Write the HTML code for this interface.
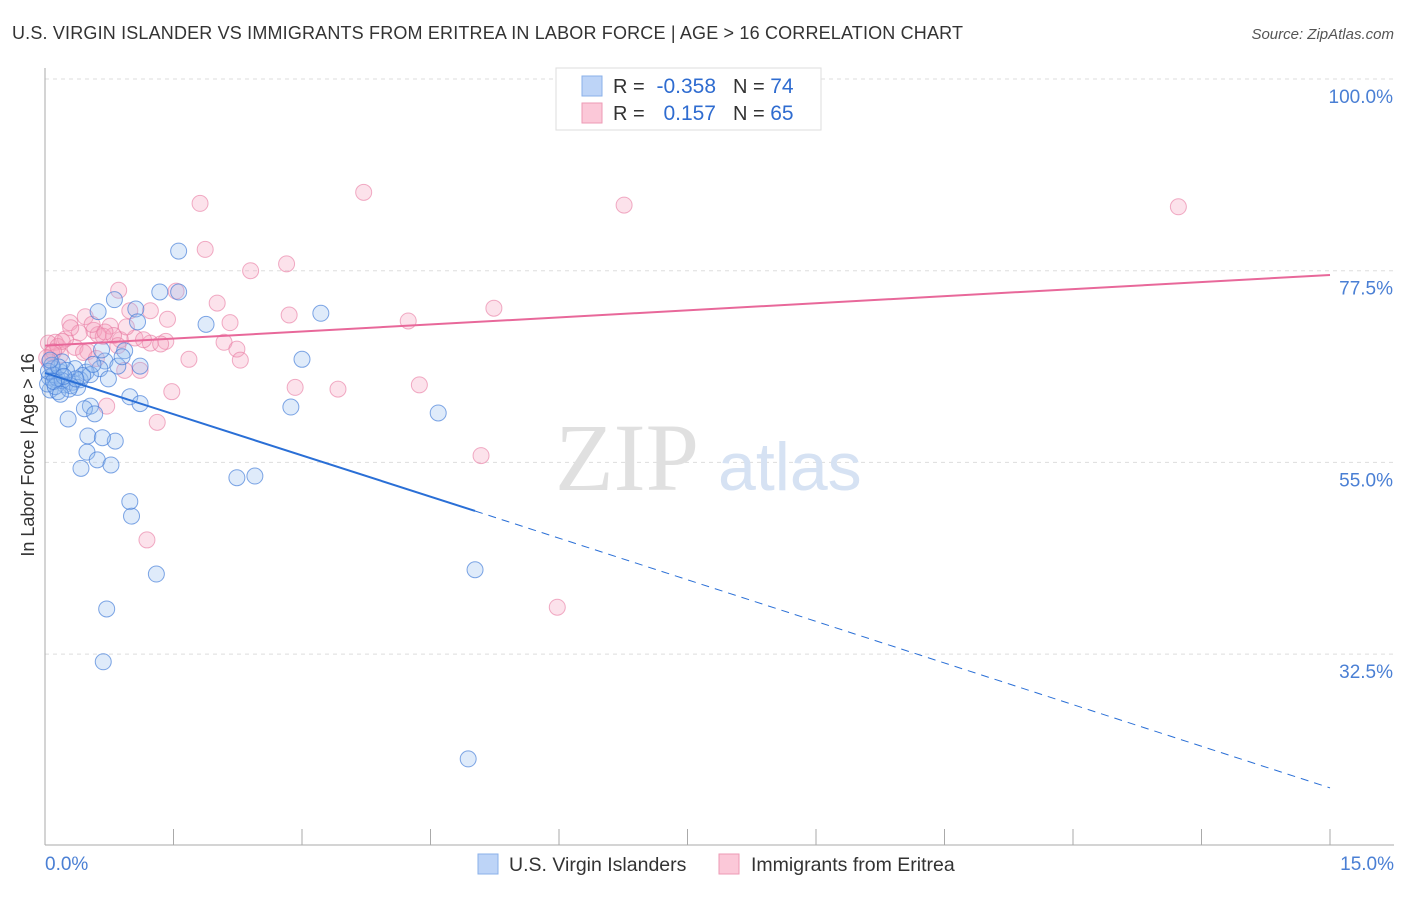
<!DOCTYPE html>
<html><head><meta charset="utf-8"><style>
body{margin:0;background:#fff;font-family:"Liberation Sans",sans-serif;}
svg text{font-family:"Liberation Sans",sans-serif;}
</style></head><body>
<svg width="1406" height="892" xmlns="http://www.w3.org/2000/svg">
<text x="12" y="39" font-size="18" fill="#333" textLength="951">U.S. VIRGIN ISLANDER VS IMMIGRANTS FROM ERITREA IN LABOR FORCE | AGE &gt; 16 CORRELATION CHART</text>
<text x="1394" y="39" font-size="15" fill="#555" font-style="italic" text-anchor="end">Source: ZipAtlas.com</text>
<g id="grid"></g>
<text x="555" y="490" font-size="96" fill="#e0e0e0" style="font-family:'Liberation Serif',serif">ZIP</text>
<text x="718" y="490" font-size="68" fill="#d6e2f3">atlas</text>
<g id="pts"></g>
<g id="lines"></g>
<text x="34" y="455" font-size="18" fill="#333" text-anchor="middle" transform="rotate(-90 34 455)">In Labor Force | Age &gt; 16</text>
<text x="45" y="870" font-size="19" fill="#4a7fd4">0.0%</text>
<text x="1394" y="870" font-size="19" fill="#4a7fd4" text-anchor="end">15.0%</text>
<g>
<rect x="556" y="68" width="265" height="62" fill="#fff" stroke="#ddd"/>
<rect x="582" y="76" width="20" height="20" fill="#bdd4f7" stroke="#8ab0ea"/>
<rect x="582" y="103" width="20" height="20" fill="#fbc8d8" stroke="#ee9ab5"/>
<text x="613" y="93" font-size="20" fill="#333">R =</text>
<text x="716" y="93" font-size="21" fill="#2f6cd0" text-anchor="end">-0.358</text>
<text x="733" y="93" font-size="20" fill="#333">N = <tspan fill="#2f6cd0" font-size="21">74</tspan></text>
<text x="613" y="120" font-size="20" fill="#333">R =</text>
<text x="716" y="120" font-size="21" fill="#2f6cd0" text-anchor="end">0.157</text>
<text x="733" y="120" font-size="20" fill="#333">N = <tspan fill="#2f6cd0" font-size="21">65</tspan></text>
</g>
<g>
<rect x="478" y="854" width="20" height="20" fill="#bdd4f7" stroke="#8ab0ea"/>
<text x="509" y="871" font-size="19.5" fill="#333">U.S. Virgin Islanders</text>
<rect x="719" y="854" width="20" height="20" fill="#fbc8d8" stroke="#ee9ab5"/>
<text x="751" y="871" font-size="19.5" fill="#333">Immigrants from Eritrea</text>
</g>
</svg>
<script>
const yTicks=[100,77.5,55,32.5];
const yTickLabels=["100.0%","77.5%","55.0%","32.5%"];
const blueX=[1.56,1.34,1.56,0.81,0.62,1.06,1.08,1.88,3.22,3.00,0.93,0.70,0.85,1.11,0.64,0.74,0.48,0.35,0.18,0.09,0.12,0.23,0.32,0.06,0.15,0.41,0.53,0.20,0.99,1.11,0.53,0.46,0.58,0.27,2.87,4.59,0.50,0.82,0.67,0.49,0.61,0.77,0.42,2.24,2.45,0.99,1.01,1.30,5.02,0.72,0.68,4.94,0.05,0.03,0.10,0.14,0.25,0.30,0.38,0.44,0.08,0.12,0.20,0.04,0.16,0.28,0.36,0.56,0.66,0.90,0.22,0.10,0.18,0.06];
const blueY=[79.8,75.0,75.0,74.1,72.7,73.0,71.5,71.2,72.5,67.1,68.1,66.9,66.3,66.3,66.0,64.8,65.6,66.0,65.6,66.0,64.7,64.1,64.4,63.5,63.3,64.7,65.3,66.8,62.7,61.9,61.6,61.3,60.7,60.1,61.5,60.8,58.1,57.5,57.9,56.2,55.3,54.7,54.3,53.2,53.4,50.4,48.7,41.9,42.4,37.8,31.6,20.2,65.0,64.2,65.3,64.9,65.8,64.0,63.8,65.2,66.4,63.9,64.6,65.7,66.2,63.6,64.8,66.5,68.2,67.4,65.1,64.5,63.0,67.0];
const pinkX=[3.72,1.81,6.76,13.23,1.87,2.40,2.82,0.86,1.53,2.01,5.24,2.85,4.24,2.16,1.43,1.23,0.99,0.76,0.47,0.29,0.57,0.68,0.88,1.05,1.23,1.41,2.09,2.24,2.28,1.68,0.12,0.18,0.35,0.50,0.93,1.11,2.92,3.42,4.37,1.48,0.72,1.31,5.09,1.19,5.98,0.04,0.08,0.24,0.40,0.62,0.15,0.30,0.80,0.95,1.15,0.05,0.45,0.70,0.20,0.55,1.35,0.10,0.02,0.85,0.60];
const pinkY=[86.7,85.4,85.2,85.0,80.0,77.5,78.3,75.2,75.1,73.7,73.1,72.3,71.6,71.4,71.8,72.8,72.8,71.0,72.1,71.4,70.5,69.8,69.4,69.6,69.0,69.2,69.1,68.3,67.0,67.1,69.1,67.6,68.5,68.0,65.8,65.8,63.8,63.6,64.1,63.3,61.6,59.7,55.8,45.9,38.0,69.0,67.8,69.5,70.2,70.0,68.6,70.8,69.9,70.9,69.4,66.8,67.9,70.3,69.2,71.2,68.9,68.0,67.3,68.7,67.2];
const blueTrend=[[0,65.5],[5.02,49.3],[15,16.8]];
const pinkTrend=[[0,68.7],[15,77.0]];
const X=v=>45+v/15*1285, Y=v=>79+(100-v)/22.5*191.7;
const NS="http://www.w3.org/2000/svg";
function mk(t,a,p){const e=document.createElementNS(NS,t);for(const k in a)e.setAttribute(k,a[k]);p.appendChild(e);return e;}
const g=document.getElementById('grid');
yTicks.forEach((t,i)=>{
 const l=mk('line',{x1:45,x2:1394,y1:Y(t),y2:Y(t),stroke:'#ddd','stroke-dasharray':'4,4'},g);
 
 
 const tx=mk('text',{x:1393,y:Y(t)+24,'font-size':19,fill:'#4a7fd4','text-anchor':'end'},g);
 tx.textContent=yTickLabels[i];
 
 
});
const ax=mk('line',{x1:45,x2:45,y1:68,y2:845,stroke:'#aaa'},g);


const bx=mk('line',{x1:45,x2:1394,y1:845,y2:845,stroke:'#aaa'},g);


for(let i=1;i<=10;i++){const t=mk('line',{x1:X(i*1.5),x2:X(i*1.5),y1:829,y2:845,stroke:'#aaa'},g);
 
 }
const p=document.getElementById('pts');
pinkX.forEach((x,i)=>{const c=mk('circle',{cx:X(x),cy:Y(pinkY[i]),r:8,fill:'rgba(246,160,190,0.3)',stroke:'rgba(232,120,160,0.6)','stroke-width':1},p);
 
 });
blueX.forEach((x,i)=>{const c=mk('circle',{cx:X(x),cy:Y(blueY[i]),r:8,fill:'rgba(150,190,240,0.3)',stroke:'rgba(60,120,215,0.65)','stroke-width':1},p);
 
 });
const L=document.getElementById('lines');
const b1=mk('line',{x1:X(blueTrend[0][0]),y1:Y(blueTrend[0][1]),x2:X(blueTrend[1][0]),y2:Y(blueTrend[1][1]),stroke:'#2a6fd6','stroke-width':2},L);


const b2=mk('line',{x1:X(blueTrend[1][0]),y1:Y(blueTrend[1][1]),x2:X(blueTrend[2][0]),y2:Y(blueTrend[2][1]),stroke:'#2a6fd6','stroke-width':1,'stroke-dasharray':'8,6'},L);


const p1=mk('line',{x1:X(pinkTrend[0][0]),y1:Y(pinkTrend[0][1]),x2:X(pinkTrend[1][0]),y2:Y(pinkTrend[1][1]),stroke:'#e8689a','stroke-width':2},L);


</script>
</body></html>
